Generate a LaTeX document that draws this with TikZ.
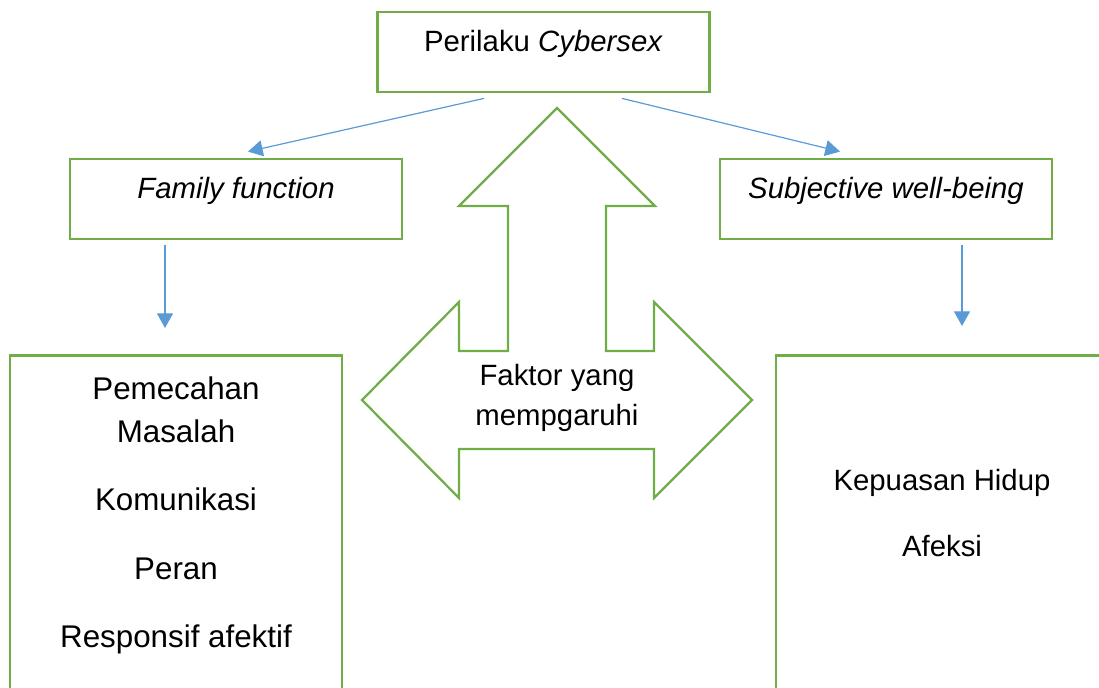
\documentclass[tikz,border=0pt]{standalone}
\usepackage{fontspec}
\setmainfont{Liberation Sans}
\usetikzlibrary{arrows.meta,positioning}
\definecolor{boxgreen}{HTML}{70AD47}
\definecolor{linkblue}{HTML}{5B9BD5}
\begin{document}
\begin{tikzpicture}[
  x=0.75pt, y=-0.75pt,
  every node/.style={inner sep=0pt, font=\fontsize{22}{30}\selectfont},
  headbox/.style={draw=boxgreen, line width=2.1pt, minimum width=249pt,
    minimum height=60pt, text height=29.5pt, text depth=30.5pt},
  listbox/.style={draw=boxgreen, line width=2.1pt, minimum width=249pt,
    minimum height=285pt, anchor=north},
  link/.style={draw=linkblue, line width=0.9pt, -{Triangle[width=12pt,length=11pt]}},
  faktor arrow/.style={draw=boxgreen, line width=1.7pt, line join=miter}
]
  \useasboundingbox (0,0) rectangle (1099,688);
  \clip (0,0) rectangle (1099,688);
  % Heading boxes
  \node[headbox] (cyber) at (543.5,52) {Perilaku \textit{Cybersex}};
  \node[headbox] (family) at (236,199) {\textit{Family function}};
  \node[headbox] (swb) at (886,199) {\textit{Subjective well-being}};
  % Aspect boxes
  \node[listbox] (aspek) at (176,354) {};
  \node[listbox] (kompo) at (942,354) {};
  \node[align=center, font=\fontsize{23.5}{32}\selectfont, below=17pt of aspek.north] (aspektext)
    {Pemecahan\\Masalah\\[19pt]Komunikasi\\[20pt]Peran\\[19pt]Responsif afektif};
  \node[align=center, font=\fontsize{22}{50}\selectfont, below=86pt of kompo.north] (kompotext)
    {Kepuasan Hidup\\Afeksi};
  % Central arrow
  \draw[faktor arrow] (557,108) -- (655,206) -- (606,206) -- (606,351) -- (654,351)
    -- (654,302) -- (752,400) -- (654,498) -- (654,449) -- (459,449) -- (459,498)
    -- (362,400) -- (459,302) -- (459,351) -- (508,351) -- (508,206) -- (459,206) -- cycle;
  \node[align=center] (faktor) at (557,398) {Faktor yang\\mempgaruhi};
  % Links
  \draw[link] ([xshift=-44.6pt,yshift=-3.75pt]cyber.south) -- ([xshift=9pt,yshift=4.5pt]family.north);
  \draw[link] ([xshift=58.9pt,yshift=-3.75pt]cyber.south) -- ([xshift=-34.5pt,yshift=4.5pt]swb.north);
  \draw[link] ([xshift=-53.25pt,yshift=-3.75pt]family.south) -- ([xshift=-8.25pt,yshift=19.5pt]aspek.north);
  \draw[link] ([xshift=57pt,yshift=-3.75pt]swb.south) -- ([xshift=15pt,yshift=21pt]kompo.north);
\end{tikzpicture}
\end{document}
